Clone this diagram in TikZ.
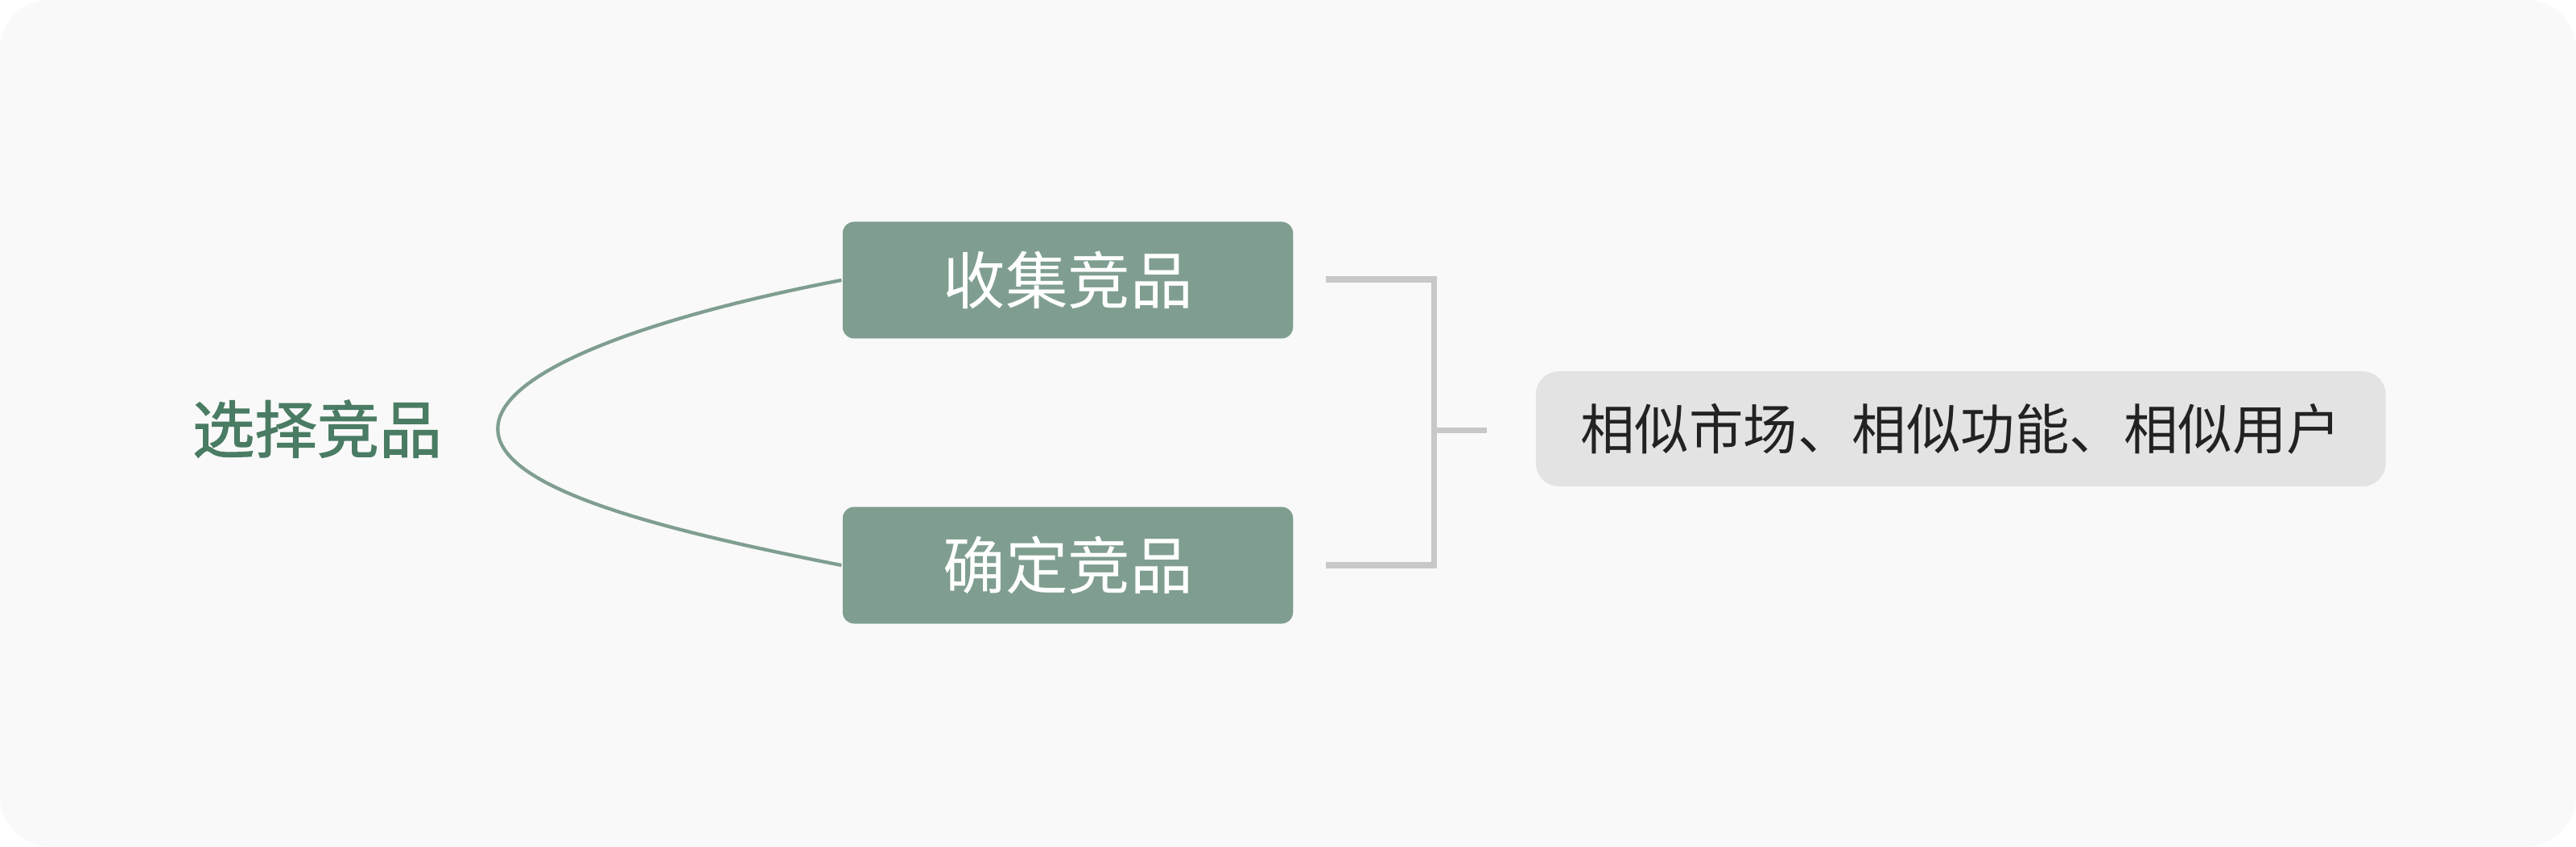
\documentclass[tikz,border=0pt]{standalone}
\usepackage{fontspec}
\setmainfont{Noto Sans CJK SC}
\newfontfamily\cjkb[FakeBold=1.5]{Noto Sans CJK SC}
\definecolor{bg}{HTML}{F9F9F9}
\definecolor{gtxt}{HTML}{4A7C64}
\definecolor{gbox}{HTML}{7F9E90}
\definecolor{brk}{HTML}{C8C8C8}
\definecolor{gray3}{HTML}{E3E3E3}
\definecolor{dtxt}{HTML}{222222}
\begin{document}
\begin{tikzpicture}[x=0.01cm,y=-0.01cm,
  sub/.style={fill=gbox,rounded corners=2pt,minimum width=2.74cm,minimum height=0.71cm,text=white,font=\fontsize{10.8pt}{12pt}\selectfont,inner sep=0pt},
  leaf/.style={fill=gray3,rounded corners=4pt,minimum width=5.17cm,minimum height=0.70cm,text=dtxt,font=\fontsize{9.4pt}{11pt}\selectfont,inner sep=0pt}]
\fill[bg,rounded corners=0.3cm] (0,0) rectangle (1568,515);
\useasboundingbox (0,0) rectangle (1568,515);
\node[text=gtxt,font=\cjkb\fontsize{10.8pt}{12pt}\selectfont] (root) at (193,261) {选择竞品};
\node[sub] (a) at (650,170.5) {收集竞品};
\node[sub] (b) at (650,344) {确定竞品};
\node[leaf] (c) at (1193.5,261) {相似市场、相似功能、相似用户};
\coordinate (l) at (303,261);
\draw[gbox,line width=0.6pt] (a.west) .. controls (400,192) and (303,225) .. (l) .. controls (303,297) and (400,322) .. (b.west);
\coordinate (t1) at (807,170);
\coordinate (t2) at (807,344);
\coordinate (m) at (905,262);
\draw[brk,line width=1pt] (t1) -- (873,170) -- (873,344) -- (t2);
\draw[brk,line width=1pt] (873,262) -- (m);
\end{tikzpicture}
\end{document}
